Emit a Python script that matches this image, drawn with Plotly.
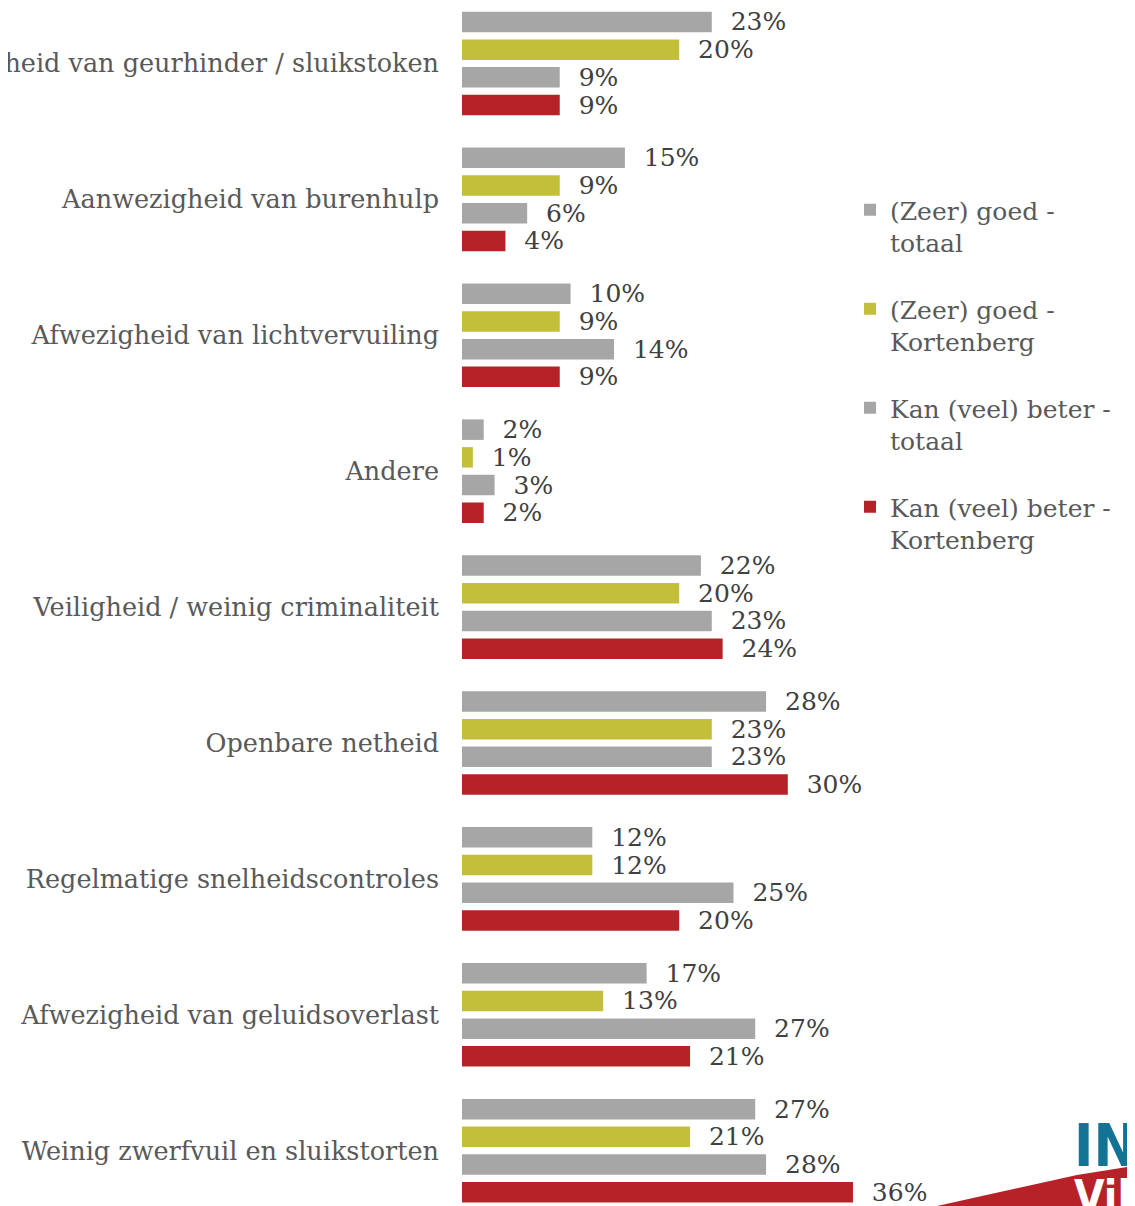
import plotly.graph_objects as go

categories = [
    "Afwezigheid van geurhinder / sluikstoken",
    "Aanwezigheid van burenhulp",
    "Afwezigheid van lichtvervuiling",
    "Andere",
    "Veiligheid / weinig criminaliteit",
    "Openbare netheid",
    "Regelmatige snelheidscontroles",
    "Afwezigheid van geluidsoverlast",
    "Weinig zwerfvuil en sluikstorten",
]
series_names = [
    "(Zeer) goed -<br>totaal",
    "(Zeer) goed -<br>Kortenberg",
    "Kan (veel) beter -<br>totaal",
    "Kan (veel) beter -<br>Kortenberg",
]
goed_totaal = [23, 15, 10, 2, 22, 28, 12, 17, 27]
goed_kortenberg = [20, 9, 9, 1, 20, 23, 12, 13, 21]
beter_totaal = [9, 6, 14, 3, 23, 23, 25, 27, 28]
beter_kortenberg = [9, 4, 9, 2, 24, 30, 20, 21, 36]
colors = ["#A6A6A6", "#C3BF3A", "#A6A6A6", "#B72229"]

OFF = 8  # page offset of the figure
W, H = 1135 - OFF, 1206 - OFF
ML, MR, MT, MB = 462 - OFF, 265, 0, 0
PW = W - ML - MR
PH = H - MT - MB
FONT = "DejaVu Serif"

fig = go.Figure()
for i, (name, vals) in enumerate(zip(series_names,
                                     [goed_totaal, goed_kortenberg, beter_totaal, beter_kortenberg])):
    fig.add_trace(go.Bar(
        y=categories, x=vals, orientation="h", name=name,
        marker=dict(color=colors[i], line=dict(width=0)),
        text=[f"\u00a0\u00a0{v}%" for v in vals],
        textposition="outside", cliponaxis=False, constraintext="none",
        textfont=dict(family=FONT, size=25, color="#404040"),
        legendgroup=f"g{i}",
    ))

def top_idx(f):
    return (f - (63.5 - OFF)) / 135.9

fig.update_layout(
    width=W, height=H,
    margin=dict(l=ML, r=MR, t=MT, b=MB, autoexpand=False),
    paper_bgcolor="white", plot_bgcolor="white",
    barmode="group", bargap=0.185, bargroupgap=0.26,
    font=dict(family=FONT, size=25, color="#595959"),
    showlegend=True,
    legend=dict(
        x=(850 - OFF - ML) / PW, xanchor="left",
        y=1 - (187 - OFF) / H, yanchor="top",
        traceorder="grouped", tracegroupgap=31,
        valign="top", itemwidth=30,
        font=dict(family=FONT, size=25, color="#595959"),
        bgcolor="rgba(0,0,0,0)",
    ),
    xaxis=dict(range=[0, PW / 10.86], showticklabels=False, showgrid=False,
               zeroline=False, showline=False, fixedrange=True),
    yaxis=dict(range=[top_idx(PH), top_idx(0)], showgrid=False, zeroline=False, showline=False,
               ticks="", ticklabelstandoff=22, automargin=False,
               tickfont=dict(family=FONT, size=25.5, color="#595959")),
)

def px_x(p):
    return (p - OFF - ML) / PW

def px_y(p):
    return 1 - (p - OFF - MT) / PH

# logo (decoration)
path = (f"M {px_x(937)},{px_y(1206)} L {px_x(1077)},{px_y(1175)} "
        f"L {px_x(1140)},{px_y(1165)} L {px_x(1140)},{px_y(1210)} L {px_x(937)},{px_y(1210)} Z")
fig.add_shape(type="path", xref="paper", yref="paper", path=path,
              fillcolor="#B72229", line=dict(width=0), layer="above")
fig.add_annotation(xref="paper", yref="paper", x=px_x(1072), y=px_y(1146),
                   xanchor="left", yanchor="middle", showarrow=False,
                   text="<b>INF</b>",
                   font=dict(family="Liberation Sans Narrow, DejaVu Sans Condensed, Liberation Sans",
                             size=58, color="#127394"))
fig.add_annotation(xref="paper", yref="paper", x=px_x(1072), y=px_y(1196),
                   xanchor="left", yanchor="middle", showarrow=False,
                   text="<b>Vil</b>",
                   font=dict(family="Liberation Sans Narrow, DejaVu Sans Condensed, Liberation Sans",
                             size=44, color="white"))

fig.write_html("out.html")
